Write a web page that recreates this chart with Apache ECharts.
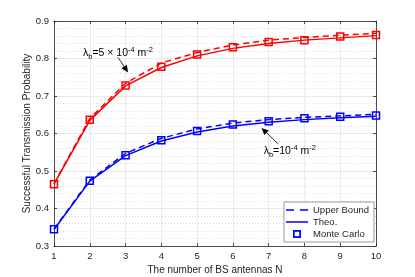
<!DOCTYPE html>
<html><head><meta charset="utf-8">
<script src="https://cdn.jsdelivr.net/npm/echarts@6/dist/echarts.min.js"></script>
<style>html,body{margin:0;padding:0;background:#fff}#c{width:415px;height:277px}</style>
</head><body><div id="c"></div>
<script>
const N = [1,2,3,4,5,6,7,8,9,10];
const redUpper = [0.466,0.640,0.734,0.788,0.816,0.836,0.849,0.856,0.862,0.867];
const redTheo  = [0.465,0.635,0.727,0.776,0.807,0.827,0.840,0.849,0.855,0.861];
const redMC    = [0.465,0.637,0.728,0.778,0.811,0.830,0.844,0.849,0.859,0.863];
const blueUpper = [0.345,0.476,0.547,0.587,0.612,0.628,0.637,0.643,0.647,0.651];
const blueTheo  = [0.344,0.473,0.541,0.580,0.604,0.620,0.630,0.637,0.642,0.646];
const blueMC    = [0.345,0.474,0.542,0.582,0.607,0.624,0.633,0.641,0.645,0.648];
const yTicks = [0.3,0.4,0.5,0.6,0.7,0.8,0.9];

const RED = '#ff0000', BLUE = '#0000ff', TXT = '#262626', AX = '#262626';
const FONT = '"Liberation Sans", Arial, sans-serif';
const pair = a => a.map((v,i)=>[N[i],v]);

const chart = echarts.init(document.getElementById('c'), null, {renderer:'canvas'});
const lineS = (name, data, color, dashed) => ({
  name, type:'line', data: pair(data), symbol:'none', z: 3,
  lineStyle:{color, width:1.5, type: dashed ? [6,4] : 'solid'},
  itemStyle:{color}, animation:false
});
const mcS = (name, data, color) => ({
  name, type:'line', data: pair(data), symbol:'rect', symbolSize:7, z: 4,
  lineStyle:{width:0, opacity:0}, showSymbol:true,
  itemStyle:{color:'rgba(255,255,255,0)', borderColor:color, borderWidth:1.5},
  animation:false
});
const axisBase = {
  axisLine:{show:true, lineStyle:{color:AX, width:0.8}},
  axisTick:{show:true, inside:true, length:3, lineStyle:{color:AX, width:0.8}},
};
chart.setOption({
  animation:false,
  textStyle:{fontFamily:FONT},
  grid:{left:54, right:39, top:21, bottom:31, outerBoundsMode:'none', containLabel:false},
  legend:{
    orient:'vertical', left:284, top:202,
    itemWidth:22, itemHeight:8, itemGap:2, symbolKeepAspect:true,
    padding:[3,5,3,2], backgroundColor:'#fff', borderColor:'#808080', borderWidth:0.8,
    textStyle:{fontSize:9.5, color:TXT, fontFamily:FONT},
    data:[
      {name:'Upper Bound', icon:'path://M0,0h8v1.5h-8zM14,0h8v1.5h-8z', itemStyle:{color:BLUE}},
      {name:'Theo.', icon:'path://M0,0h22v1.5h-22z', itemStyle:{color:BLUE}},
      {name:'Monte Carlo', icon:'path://M7.5,0h7v7h-7zM9,1.5v4h4v-4z', itemStyle:{color:BLUE, borderWidth:0}}
    ],
    selectedMode:false
  },
  xAxis:[
    Object.assign({type:'value', min:1, max:10, interval:1,
      name:'The number of BS antennas N', nameLocation:'middle', nameGap:19, nameMoveOverlap:false,
      nameTextStyle:{fontSize:10, color:TXT, fontFamily:FONT, verticalAlign:'top'},
      axisLabel:{fontSize:9.5, color:TXT, margin:5, fontFamily:FONT},
      splitLine:{show:true, lineStyle:{color:'#e3e3e3', width:0.8}}}, axisBase),
    Object.assign({type:'value', min:1, max:10, interval:1, position:'top',
      axisLabel:{show:false}, splitLine:{show:false}}, axisBase)
  ],
  yAxis:[
    Object.assign({type:'value', min:0.3, max:0.9, interval:0.1,
      name:'Successful Transmission Probability', nameLocation:'middle', nameGap:22, nameMoveOverlap:false,
      nameTextStyle:{fontSize:10, color:TXT, fontFamily:FONT},
      axisLabel:{fontSize:9.5, color:TXT, margin:5, fontFamily:FONT,
        formatter: v => { const t = yTicks.find(x=>Math.abs(x-v)<1e-6); return t===undefined? '' : t.toFixed(1); }},
      splitLine:{show:true, lineStyle:{color:'#e3e3e3', width:0.8}},
      minorTick:{show:false, splitNumber:5},
      minorSplitLine:{show:true, lineStyle:{color:'#d0d0d0', width:0.8, type:[1,2]}}}, axisBase),
    Object.assign({type:'value', min:0.3, max:0.9, interval:0.1, position:'right',
      axisLabel:{show:false}, splitLine:{show:false}}, axisBase)
  ],
  series:[
    lineS('Upper Bound (5e-4)', redUpper, RED, true),
    lineS('Theo. (5e-4)', redTheo, RED, false),
    mcS('Monte Carlo (5e-4)', redMC, RED),
    lineS('Upper Bound', blueUpper, BLUE, true),
    lineS('Theo.', blueTheo, BLUE, false),
    mcS('Monte Carlo', blueMC, BLUE)
  ]
});

// annotations placed in data coordinates
const P = (x,y) => chart.convertToPixel({gridIndex:0}, [x,y]);
const rich = {
  a:{fontSize:10.5, color:TXT, fontFamily:FONT, lineHeight:16, verticalAlign:'middle'},
  sub:{fontSize:7.5, color:TXT, fontFamily:FONT, lineHeight:16, padding:[8,0,0,0], verticalAlign:'middle'},
  sup:{fontSize:7.5, color:TXT, fontFamily:FONT, lineHeight:16, padding:[0,0,6,0], verticalAlign:'middle'}
};
function arrow(t, h){
  const dx=h[0]-t[0], dy=h[1]-t[1], L=Math.hypot(dx,dy), ux=dx/L, uy=dy/L;
  const hl=7, hw=3.2;
  const bx=h[0]-ux*hl, by=h[1]-uy*hl;
  return [
    {type:'line', shape:{x1:t[0],y1:t[1],x2:bx,y2:by}, style:{stroke:'#000', lineWidth:0.8}, z:10},
    {type:'polygon', shape:{points:[[h[0],h[1]],[bx-uy*hw,by+ux*hw],[bx+uy*hw,by-ux*hw]]}, style:{fill:'#000'}, z:10}
  ];
}
const rTxt = P(1.81, 0.815), bTxt = P(6.86, 0.553);
chart.setOption({graphic:[
  {type:'text', x:rTxt[0], y:rTxt[1], z:10, style:{text:'{a|λ}{sub|b}{a|=5 × 10}{sup|-4}{a| m}{sup|-2}', rich, verticalAlign:'middle'}},
  {type:'text', x:bTxt[0], y:bTxt[1], z:10, style:{text:'{a|λ}{sub|b}{a|=10}{sup|-4}{a| m}{sup|-2}', rich, verticalAlign:'middle'}},
  ...arrow(P(2.79,0.803), P(3.07,0.763)),
  ...arrow(P(7.27,0.572), P(6.80,0.615))
]});
</script></body></html>
